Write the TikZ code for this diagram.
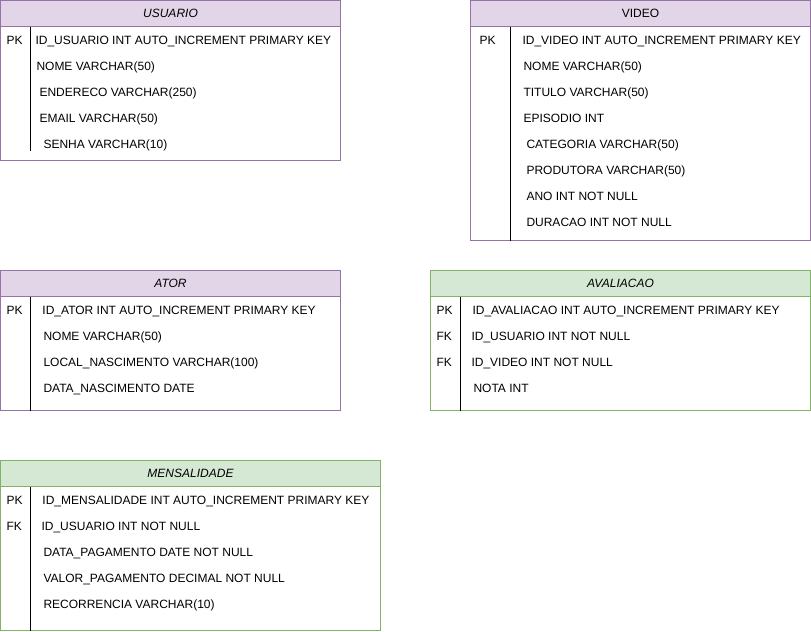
\documentclass[tikz,border=0pt]{standalone}
\usepackage{fontspec}
\setmainfont{Liberation Sans}
\definecolor{purplefill}{HTML}{E1D5E7}
\definecolor{purpleline}{HTML}{9673A6}
\definecolor{greenfill}{HTML}{D5E8D4}
\definecolor{greenline}{HTML}{82B366}
\tikzset{
  purplehead/.style={fill=purplefill,draw=purpleline},
  greenhead/.style={fill=greenfill,draw=greenline},
  field/.style={anchor=base west,inner sep=0pt,font=\fontsize{9}{10}\selectfont},
  tabtitle/.style={inner sep=0pt,font=\fontsize{9}{10}\selectfont\itshape},
  plaintitle/.style={inner sep=0pt,font=\fontsize{9}{10}\selectfont}
}
\begin{document}
\begin{tikzpicture}[x=0.75pt,y=-0.75pt,line width=0.75pt]
\useasboundingbox (0,0) rectangle (811,632);
% USUARIO
\filldraw[purplehead] (0.5,0.5) rectangle (340.5,26.5);
\draw[purpleline] (0.5,26.5) -- (0.5,160.5) -- (340.5,160.5) -- (340.5,26.5);
\draw (30.5,26.5) -- (30.5,150.5);
\node[tabtitle] (usuario) at (170.5,13.5) {USUARIO};
\node[field] (usuario-pk) at (6,44.3) {PK};
\foreach \dx/\txt [count=\i] in {35/ID\_USUARIO INT AUTO\_INCREMENT PRIMARY KEY,
  36/NOME VARCHAR(50), 39/ENDERECO VARCHAR(250), 39/EMAIL VARCHAR(50),
  43/SENHA VARCHAR(10)}
  \node[field] (usuario-\i) at (\dx,18.3+26*\i) {\txt};
% VIDEO
\filldraw[purplehead] (470.5,0.5) rectangle (810.5,26.5);
\draw[purpleline] (470.5,26.5) -- (470.5,240.5) -- (810.5,240.5) -- (810.5,26.5);
\draw (510.5,26.5) -- (510.5,240.5);
\node[plaintitle] (video) at (640.5,13.5) {VIDEO};
\node[field] (video-pk) at (479,44.3) {PK};
\foreach \dx/\txt [count=\i] in {522/ID\_VIDEO INT AUTO\_INCREMENT PRIMARY KEY,
  523/NOME VARCHAR(50), 523/TITULO VARCHAR(50), 523/EPISODIO INT,
  526/CATEGORIA VARCHAR(50), 526/PRODUTORA VARCHAR(50),
  526/ANO INT NOT NULL, 526/DURACAO INT NOT NULL}
  \node[field] (video-\i) at (\dx,18.3+26*\i) {\txt};
% ATOR
\filldraw[purplehead] (0.5,270.5) rectangle (340.5,296.5);
\draw[purpleline] (0.5,296.5) -- (0.5,410.5) -- (340.5,410.5) -- (340.5,296.5);
\draw (30.5,296.5) -- (30.5,410.5);
\node[tabtitle] (ator) at (170.5,283.5) {ATOR};
\node[field] (ator-pk) at (6,314.3) {PK};
\foreach \dx/\txt [count=\i] in {42/ID\_ATOR INT AUTO\_INCREMENT PRIMARY KEY,
  43/NOME VARCHAR(50), 43/LOCAL\_NASCIMENTO VARCHAR(100),
  43/DATA\_NASCIMENTO DATE}
  \node[field] (ator-\i) at (\dx,288.3+26*\i) {\txt};
% AVALIACAO
\filldraw[greenhead] (430.5,270.5) rectangle (810.5,296.5);
\draw[greenline] (430.5,296.5) -- (430.5,410.5) -- (810.5,410.5) -- (810.5,296.5);
\draw (460.5,296.5) -- (460.5,410.5);
\node[tabtitle] (avaliacao) at (620.5,283.5) {AVALIACAO};
\node[field] (avaliacao-pk) at (436,314.3) {PK};
\node[field] (avaliacao-fk1) at (436,340.3) {FK};
\node[field] (avaliacao-fk2) at (436,366.3) {FK};
\foreach \dx/\txt [count=\i] in {472/ID\_AVALIACAO INT AUTO\_INCREMENT PRIMARY KEY,
  471/ID\_USUARIO INT NOT NULL, 471/ID\_VIDEO INT NOT NULL, 473/NOTA INT}
  \node[field] (avaliacao-\i) at (\dx,288.3+26*\i) {\txt};
% MENSALIDADE
\filldraw[greenhead] (0.5,460.5) rectangle (380.5,486.5);
\draw[greenline] (0.5,486.5) -- (0.5,630.5) -- (380.5,630.5) -- (380.5,486.5);
\draw (30.5,486.5) -- (30.5,630.5);
\node[tabtitle] (mensalidade) at (190.5,473.5) {MENSALIDADE};
\node[field] (mensalidade-pk) at (6,504.3) {PK};
\node[field] (mensalidade-fk) at (6,530.3) {FK};
\foreach \dx/\txt [count=\i] in {42/ID\_MENSALIDADE INT AUTO\_INCREMENT PRIMARY KEY,
  41/ID\_USUARIO INT NOT NULL, 43/DATA\_PAGAMENTO DATE NOT NULL,
  43/VALOR\_PAGAMENTO DECIMAL NOT NULL, 43/RECORRENCIA VARCHAR(10)}
  \node[field] (mensalidade-\i) at (\dx,478.3+26*\i) {\txt};
\end{tikzpicture}
\end{document}
